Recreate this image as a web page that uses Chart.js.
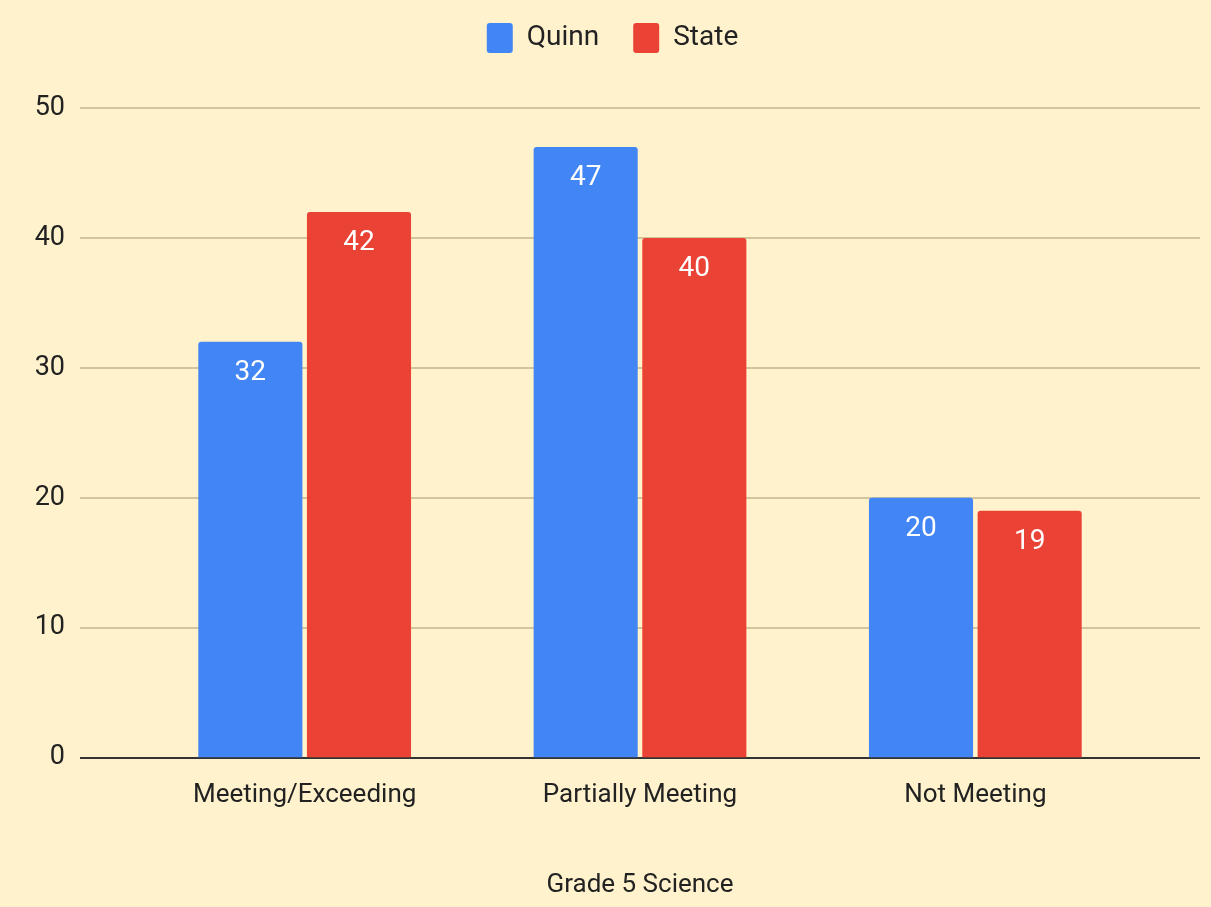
<!DOCTYPE html>
<html>
<head>
<meta charset="utf-8">
<script src="https://cdn.jsdelivr.net/npm/chart.js@4/dist/chart.umd.min.js"></script>
<style>
  html, body { margin: 0; padding: 0; background: #fff2cc; }
  #wrap { width: 1211px; height: 907px; }
</style>
</head>
<body>
<div id="wrap"><canvas id="chart" width="1211" height="907"></canvas></div>
<script>
const categories = ['Meeting/Exceeding', 'Partially Meeting', 'Not Meeting'];
const quinnValues = [32, 47, 20];
const stateValues = [42, 40, 19];
const yTicks = [0, 10, 20, 30, 40, 50];

const FONT = "Roboto, 'DejaVu Sans Condensed', sans-serif";
const TEXT = '#222222';

// grid lines run wider than the plot area, like the original sheet chart
const wideGrid = {
    id: 'wideGrid',
    beforeDatasetsDraw(chart) {
        const ctx = chart.ctx;
        const y = chart.scales.y;
        ctx.save();
        yTicks.forEach(v => {
            const py = Math.round(y.getPixelForValue(v));
            ctx.beginPath();
            ctx.lineWidth = 2;
            ctx.strokeStyle = v === 0 ? '#333333' : '#d2c59e';
            ctx.moveTo(80, py);
            ctx.lineTo(1200, py);
            ctx.stroke();
        });
        ctx.restore();
    }
};

const barLabels = {
    id: 'barLabels',
    afterDatasetsDraw(chart) {
        const ctx = chart.ctx;
        ctx.save();
        ctx.font = '28px ' + FONT;
        ctx.fillStyle = '#ffffff';
        ctx.textAlign = 'center';
        ctx.textBaseline = 'middle';
        chart.data.datasets.forEach((ds, i) => {
            chart.getDatasetMeta(i).data.forEach((bar, j) => {
                ctx.fillText(String(ds.data[j]), bar.x, bar.y + 31);
            });
        });
        ctx.restore();
    }
};

// more room under the legend, and nudge it up/right to where the sheet put it
const legendGap = {
    id: 'legendGap',
    beforeInit(chart) {
        const legend = chart.legend;
        const fit = legend.fit;
        legend.fit = function () {
            fit.bind(legend)();
            this.height += 34;
        };
        const draw = legend.draw;
        legend.draw = function () {
            const ctx = chart.ctx;
            ctx.save();
            ctx.translate(7, -11);
            draw.apply(legend, arguments);
            ctx.restore();
        };
    }
};

new Chart(document.getElementById('chart'), {
    type: 'bar',
    data: {
        labels: categories,
        datasets: [
            {
                label: 'Quinn',
                data: quinnValues,
                backgroundColor: '#4285f4',
                borderRadius: { topLeft: 3, topRight: 3 },
                borderSkipped: 'bottom',
                categoryPercentage: 0.648,
                barPercentage: 0.958
            },
            {
                label: 'State',
                data: stateValues,
                backgroundColor: '#ea4335',
                borderRadius: { topLeft: 3, topRight: 3 },
                borderSkipped: 'bottom',
                categoryPercentage: 0.648,
                barPercentage: 0.958
            }
        ]
    },
    options: {
        responsive: false,
        animation: false,
        layout: { padding: { top: 0, right: 0, bottom: 6, left: 0 } },
        plugins: {
            legend: {
                position: 'top',
                labels: {
                    font: { family: FONT, size: 28 },
                    color: TEXT,
                    boxWidth: 26,
                    boxHeight: 30,
                    useBorderRadius: true,
                    borderRadius: 3,
                    padding: 34
                }
            },
            tooltip: { enabled: false }
        },
        scales: {
            x: {
                grid: { display: false, drawTicks: false },
                border: { display: false },
                ticks: { font: { family: FONT, size: 26 }, color: TEXT, padding: 22 },
                title: {
                    display: true,
                    text: 'Grade 5 Science',
                    font: { family: FONT, size: 26 },
                    color: TEXT,
                    padding: { top: 37, bottom: 0 }
                }
            },
            y: {
                min: 0,
                max: 50,
                grid: { display: false, drawTicks: false },
                border: { display: false },
                ticks: {
                    stepSize: 10,
                    font: { family: FONT, size: 27 },
                    color: TEXT,
                    padding: 72
                },
                afterFit(scale) { scale.width = 137; }
            },
            // empty right axis only reserves space so the legend stays centred on the page
            yRight: {
                position: 'right',
                display: true,
                grid: { display: false, drawTicks: false },
                border: { display: false },
                ticks: { display: false },
                afterFit(scale) { scale.width = 68; }
            }
        }
    },
    plugins: [wideGrid, barLabels, legendGap]
});
</script>
</body>
</html>
